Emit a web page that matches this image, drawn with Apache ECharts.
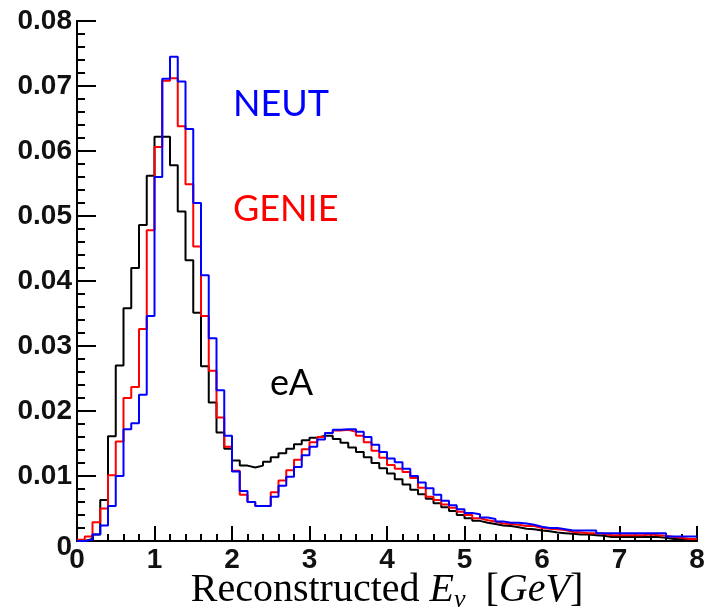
<!DOCTYPE html>
<html><head><meta charset="utf-8">
<script src="https://cdn.jsdelivr.net/npm/echarts@6/dist/echarts.min.js"></script>
<style>html,body{margin:0;padding:0;background:#fff}#c{width:710px;height:614px}</style>
</head><body><div id="c"></div>
<script>
// Histogram binning (GeV)
const binStart = 0;
const binWidth = 0.1;
const xTickLabels = ['0','1','2','3','4','5','6','7','8'];
const yTickLabels = ['0','0.01','0.02','0.03','0.04','0.05','0.06','0.07','0.08'];

// eA (black)
const eA = [
0.0000,0.0003,0.0010,0.0063,0.0161,0.0270,0.0358,0.0420,0.0486,0.0562,
0.0622,0.0622,0.0578,0.0507,0.0432,0.0351,0.0269,0.0213,0.0167,0.0142,
0.0124,0.0116,0.0113,0.0116,0.0122,0.0129,0.0135,0.0142,0.0149,0.0155,
0.0159,0.0162,0.0162,0.0157,0.0151,0.0144,0.0137,0.0129,0.0120,0.0112,
0.0104,0.0095,0.0087,0.0079,0.0072,0.0065,0.0058,0.0052,0.0046,0.0040,
0.0035,0.0031,0.0028,0.0026,0.0024,0.0023,0.0021,0.0019,0.0018,0.0016,
0.0015,0.0013,0.0012,0.0011,0.0010,0.0010,0.0009,0.0008,0.0006,0.0006,
0.0006,0.0006,0.0006,0.0006,0.0006,0.0005,0.0003,0.0003,0.0003,0.0003];

// GENIE (red)
const genie = [
0.0002,0.0007,0.0029,0.0050,0.0101,0.0153,0.0220,0.0237,0.0326,0.0478,
0.0606,0.0708,0.0712,0.0638,0.0549,0.0453,0.0346,0.0262,0.0190,0.0145,
0.0108,0.0071,0.0060,0.0054,0.0054,0.0075,0.0093,0.0109,0.0125,0.0141,
0.0152,0.0160,0.0166,0.0170,0.0171,0.0168,0.0162,0.0152,0.0139,0.0128,
0.0117,0.0111,0.0106,0.0097,0.0082,0.0068,0.0063,0.0056,0.0051,0.0045,
0.0040,0.0035,0.0032,0.0030,0.0027,0.0026,0.0025,0.0023,0.0023,0.0020,
0.0019,0.0018,0.0017,0.0014,0.0013,0.0012,0.0012,0.0011,0.0009,0.0009,
0.0009,0.0009,0.0009,0.0010,0.0009,0.0008,0.0006,0.0005,0.0003,0.0003];

// NEUT (blue)
const neut = [
0.0000,0.0002,0.0010,0.0024,0.0054,0.0100,0.0172,0.0181,0.0225,0.0346,
0.0560,0.0711,0.0745,0.0707,0.0634,0.0520,0.0409,0.0312,0.0232,0.0162,
0.0107,0.0077,0.0060,0.0054,0.0054,0.0068,0.0085,0.0099,0.0114,0.0132,
0.0145,0.0156,0.0166,0.0171,0.0172,0.0172,0.0168,0.0160,0.0148,0.0137,
0.0127,0.0121,0.0111,0.0100,0.0090,0.0081,0.0071,0.0062,0.0055,0.0049,
0.0043,0.0041,0.0036,0.0034,0.0030,0.0028,0.0028,0.0027,0.0025,0.0022,
0.0020,0.0020,0.0018,0.0016,0.0016,0.0016,0.0016,0.0012,0.0012,0.0012,
0.0012,0.0012,0.0012,0.0012,0.0012,0.0012,0.0007,0.0007,0.0007,0.0007];

function toSteps(vals) {
  const pts = vals.map((v, i) => [+(binStart + i * binWidth).toFixed(3), v]);
  pts.push([+(binStart + vals.length * binWidth).toFixed(3), vals[vals.length - 1]]);
  return pts;
}

const chart = echarts.init(document.getElementById('c'));
function lbl(extra) {
  return Object.assign({fontFamily: 'Liberation Sans', fontWeight: 'bold', fontSize: 28, color: '#111'}, extra);
}
const blk = () => ({color: '#000', width: 2});

// Tick strips: thin grids whose split lines act as inward tick marks.
function xStrip(gridIndex, minor) {
  return {
    gridIndex, type: 'value', min: 0, max: 8, interval: 1,
    axisLine: {show: false}, axisTick: {show: false}, axisLabel: {show: false},
    minorTick: {show: false, splitNumber: 5},
    splitLine: {show: !minor, lineStyle: blk()},
    minorSplitLine: {show: minor, lineStyle: blk()}
  };
}
function yStrip(gridIndex, minor) {
  return {
    gridIndex, type: 'value', min: 0, max: 0.08, interval: 0.01,
    axisLine: {show: false}, axisTick: {show: false}, axisLabel: {show: false},
    minorTick: {show: false, splitNumber: 5},
    splitLine: {show: !minor, lineStyle: blk()},
    minorSplitLine: {show: minor, lineStyle: blk()}
  };
}
const hiddenX = g => ({gridIndex: g, type: 'value', min: 0, max: 1, show: false});
const hiddenY = g => ({gridIndex: g, type: 'value', min: 0, max: 1, show: false});

chart.setOption({
  animation: false,
  grid: [
    {left: 77, top: 21, width: 620, height: 520, outerBoundsMode: 'none'},
    {left: 77, top: 526, width: 620, height: 15, outerBoundsMode: 'none'},
    {left: 77, top: 534, width: 620, height: 7, outerBoundsMode: 'none'},
    {left: 77, top: 21, width: 19, height: 520, outerBoundsMode: 'none'},
    {left: 77, top: 21, width: 8, height: 520, outerBoundsMode: 'none'}
  ],
  xAxis: [{
    gridIndex: 0, type: 'value', min: 0, max: 8, interval: 1, position: 'bottom',
    axisLine: {show: true, lineStyle: blk()},
    axisTick: {show: true, inside: true, length: 15, lineStyle: blk()},
    minorTick: {show: true, splitNumber: 5, length: 7, lineStyle: blk()},
    splitLine: {show: false},
    axisLabel: lbl({margin: 5, formatter: v => xTickLabels[Math.round(v)]}),
    name: '{r|Reconstructed }{i|E}{s|ν}{r|  [}{i|GeV}{r|]}',
    nameLocation: 'middle',
    nameGap: 26,
    nameMoveOverlap: false,
    nameTextStyle: {
      rich: {
        r: {fontFamily: 'Liberation Serif', fontSize: 40, color: '#000', lineHeight: 46},
        i: {fontFamily: 'Liberation Serif', fontSize: 40, fontStyle: 'italic', color: '#000', lineHeight: 46},
        s: {fontFamily: 'Liberation Serif', fontSize: 26, fontStyle: 'italic', color: '#000', lineHeight: 18, verticalAlign: 'bottom'}
      }
    }
  }, {
    gridIndex: 0, type: 'value', min: 0, max: 8, position: 'top',
    axisLine: {show: true, lineStyle: blk()},
    axisTick: {show: false}, axisLabel: {show: false}, splitLine: {show: false}
  },
  xStrip(1, false), xStrip(2, true), hiddenX(3), hiddenX(4)],
  yAxis: [{
    gridIndex: 0, type: 'value', min: 0, max: 0.08, interval: 0.01, position: 'left',
    axisLine: {show: true, lineStyle: blk()},
    axisTick: {show: true, inside: true, length: 19, lineStyle: blk()},
    minorTick: {show: true, splitNumber: 5, length: 8, lineStyle: blk()},
    splitLine: {show: false},
    axisLabel: lbl({
      margin: 5,
      formatter: v => { const s = yTickLabels[Math.round(v * 100)]; return s === '0' ? '{z|0}' : s; },
      rich: {z: {fontFamily: 'Liberation Sans', fontWeight: 'bold', fontSize: 28, color: '#111', padding: [12, 0, 0, 0]}}
    })
  }, {
    gridIndex: 0, type: 'value', min: 0, max: 0.08, position: 'right',
    axisLine: {show: true, lineStyle: blk()},
    axisTick: {show: false}, axisLabel: {show: false}, splitLine: {show: false}
  },
  hiddenY(1), hiddenY(2), yStrip(3, false), yStrip(4, true)],
  series: [
    {type: 'line', xAxisIndex: 0, yAxisIndex: 0, step: 'end', symbol: 'none', data: toSteps(eA), lineStyle: {color: '#000', width: 2}},
    {type: 'line', xAxisIndex: 0, yAxisIndex: 0, step: 'end', symbol: 'none', data: toSteps(genie), lineStyle: {color: '#ff0000', width: 2}},
    {type: 'line', xAxisIndex: 0, yAxisIndex: 0, step: 'end', symbol: 'none', data: toSteps(neut), lineStyle: {color: '#0000ff', width: 2}}
  ],
  graphic: [
    {type: 'text', left: 233, top: 86, style: {text: 'NEUT', fill: '#0000ff', font: '36px Lato'}},
    {type: 'text', left: 233, top: 191, style: {text: 'GENIE', fill: '#ff0000', font: '36px Lato'}},
    {type: 'text', left: 270, top: 365, style: {text: 'eA', fill: '#000', font: '36px Lato'}}
  ]
});
</script>
</body></html>
